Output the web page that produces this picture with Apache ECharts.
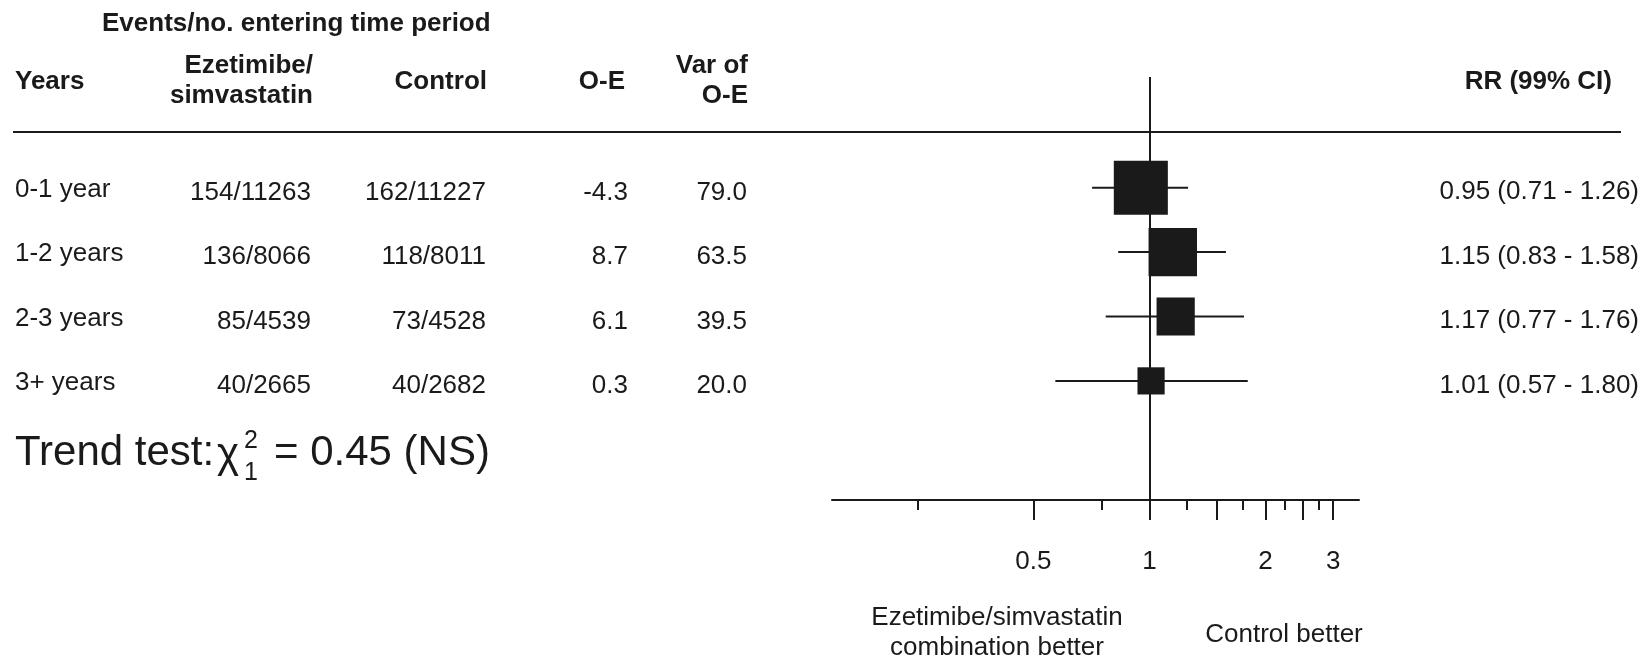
<!DOCTYPE html>
<html><head><meta charset="utf-8">
<script src="https://cdn.jsdelivr.net/npm/echarts@6/dist/echarts.min.js"></script>
<style>html,body{margin:0;padding:0;background:#fff;}#c{width:1652px;height:659px;}</style>
</head><body><div id="c"></div>
<script>
const periods = ['0-1 year', '1-2 years', '2-3 years', '3+ years'];
const ezeEvents = ['154/11263', '136/8066', '85/4539', '40/2665'];
const controlEvents = ['162/11227', '118/8011', '73/4528', '40/2682'];
const oMinusE = [-4.3, 8.7, 6.1, 0.3];
const varOE = [79.0, 63.5, 39.5, 20.0];
const rr = [0.95, 1.15, 1.17, 1.01];
const ciLow = [0.71, 0.83, 0.77, 0.57];
const ciHigh = [1.26, 1.58, 1.76, 1.80];
const majorTicks = [0.5, 1, 1.5, 2, 2.5, 3];
const minorTicks = [0.25, 0.75, 1.25, 1.75, 2.25, 2.75];
const tickLabels = [0.5, 1, 2, 3];

const FONT = '"Liberation Sans", Arial, Helvetica, sans-serif';
const INK = '#1a1a1a';

const chart = echarts.init(document.getElementById('c'), null, {renderer: 'canvas'});

const ciData = rr.map((v, i) => [ciLow[i], ciHigh[i], i + 1]);
const boxData = rr.map((v, i) => [v, i + 1, varOE[i]]);

const baseX = {
  type: 'log', logBase: 2, min: 0.15, max: 3.5, position: 'bottom',
  splitLine: {show: false}, minorTick: {show: false}, minorSplitLine: {show: false}
};

const option = {
  animation: false,
  backgroundColor: '#ffffff',
  grid: {left: 832, right: 293, top: 77, bottom: 159, containLabel: false},
  xAxis: [
    Object.assign({}, baseX, {
      axisLine: {show: true, onZero: false, lineStyle: {color: INK, width: 2}},
      axisTick: {show: true, customValues: majorTicks, length: 20, lineStyle: {color: INK, width: 2}},
      axisLabel: {show: true, customValues: tickLabels, margin: 49, fontSize: 26, fontFamily: FONT, color: INK,
        formatter: v => String(+v.toFixed(2))}
    }),
    Object.assign({}, baseX, {
      axisLine: {show: false, onZero: false},
      axisTick: {show: true, customValues: minorTicks, length: 10, lineStyle: {color: INK, width: 2}},
      axisLabel: {show: false}
    })
  ],
  yAxis: {type: 'value', min: -0.72, max: 5.85, inverse: true, show: false},
  series: [
    {
      type: 'custom', xAxisIndex: 0, yAxisIndex: 0, z: 2,
      encode: {x: [0, 1], y: 2},
      data: ciData,
      renderItem: (params, api) => {
        const y = api.value(2);
        const p1 = api.coord([api.value(0), y]);
        const p2 = api.coord([api.value(1), y]);
        return {type: 'line', shape: {x1: p1[0], y1: p1[1], x2: p2[0], y2: p2[1]},
          style: {stroke: INK, lineWidth: 2}};
      }
    },
    {
      type: 'scatter', xAxisIndex: 0, yAxisIndex: 0, z: 3,
      symbol: 'rect',
      symbolSize: v => 6.08 * Math.sqrt(v[2]),
      itemStyle: {color: INK, opacity: 1},
      data: boxData,
      markLine: {
        silent: true, symbol: ['none', 'none'], label: {show: false},
        lineStyle: {color: INK, width: 2, type: 'solid'},
        data: [{xAxis: 1}]
      }
    }
  ]
};
chart.setOption(option);

function txt(x, y, text, opts) {
  opts = opts || {};
  return {
    type: 'text', x: x, y: y + 3, silent: true,
    style: {
      text: text, fill: INK,
      fontSize: opts.size || 26, fontFamily: FONT, fontWeight: opts.bold ? 'bold' : 'normal',
      align: opts.align || 'left', verticalAlign: 'middle'
    }
  };
}

const g = [];
// headers
g.push(txt(102, 21, 'Events/no. entering time period', {bold: true}));
g.push(txt(15, 79, 'Years', {bold: true}));
g.push(txt(313, 63, 'Ezetimibe/', {bold: true, align: 'right'}));
g.push(txt(313, 93, 'simvastatin', {bold: true, align: 'right'}));
g.push(txt(487, 79, 'Control', {bold: true, align: 'right'}));
g.push(txt(625, 79, 'O-E', {bold: true, align: 'right'}));
g.push(txt(748, 63, 'Var of', {bold: true, align: 'right'}));
g.push(txt(748, 93, 'O-E', {bold: true, align: 'right'}));
g.push(txt(1612, 79, 'RR (99% CI)', {bold: true, align: 'right'}));
g.push({type: 'line', silent: true, shape: {x1: 13, y1: 132, x2: 1621, y2: 132},
  style: {stroke: INK, lineWidth: 2}});

// rows
periods.forEach((p, i) => {
  const y = chart.convertToPixel({yAxisIndex: 0}, i + 1);
  g.push(txt(15, y - 1, p));
  g.push(txt(311, y + 2, ezeEvents[i], {align: 'right'}));
  g.push(txt(486, y + 2, controlEvents[i], {align: 'right'}));
  g.push(txt(628, y + 2, oMinusE[i].toFixed(1), {align: 'right'}));
  g.push(txt(747, y + 2, varOE[i].toFixed(1), {align: 'right'}));
  g.push(txt(1639, y + 1.5, rr[i].toFixed(2) + ' (' + ciLow[i].toFixed(2) + ' - ' + ciHigh[i].toFixed(2) + ')', {align: 'right'}));
});

// trend test
g.push(txt(15, 450, 'Trend test:', {size: 42}));
g.push(txt(217, 452, 'χ', {size: 42}));
g.push(txt(244, 438, '2', {size: 25}));
g.push(txt(244, 470, '1', {size: 25}));
g.push(txt(274, 450, '= 0.45 (NS)', {size: 42}));

// direction labels
g.push(txt(997, 615, 'Ezetimibe/simvastatin', {align: 'center'}));
g.push(txt(997, 645, 'combination better', {align: 'center'}));
g.push(txt(1284, 632, 'Control better', {align: 'center'}));

chart.setOption({graphic: g});
</script>
</body></html>
